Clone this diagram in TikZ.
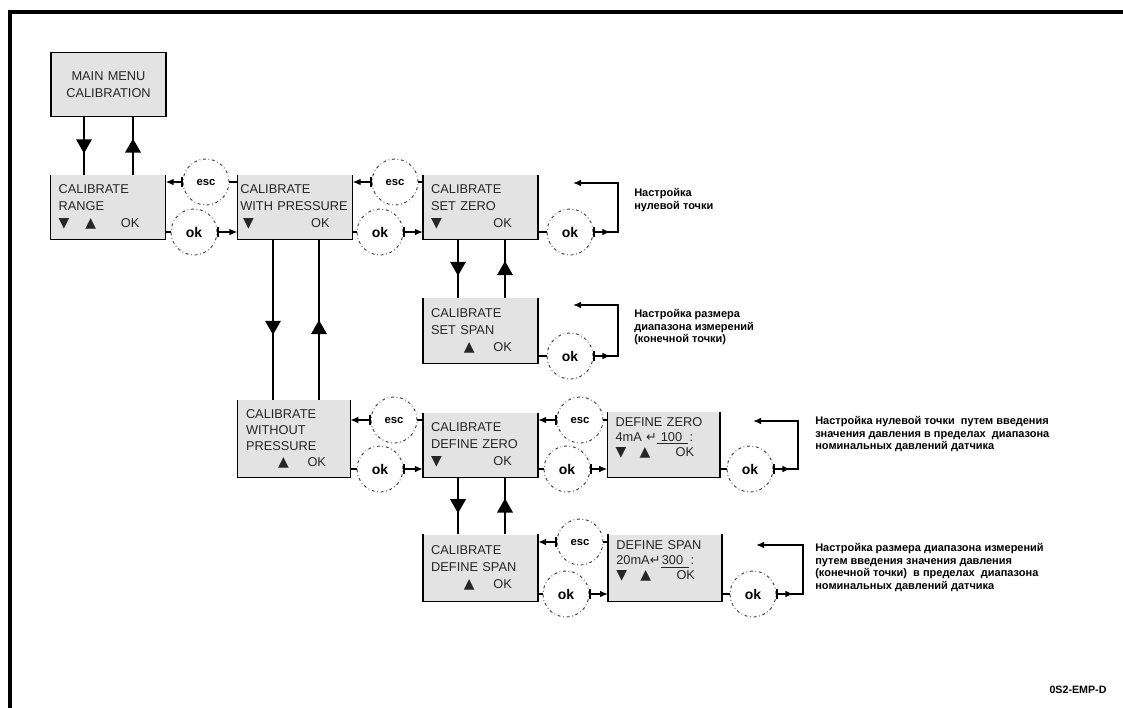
\documentclass[tikz,border=0pt]{standalone}
\usepackage{fontspec}
\setmainfont{Liberation Sans}
\newfontfamily\symfont{DejaVu Sans}
\usetikzlibrary{arrows.meta,decorations.markings}

\newcommand\dn{{\symfont\fontsize{10.5pt}{10pt}\selectfont\char"25BC}}
\newcommand\up{{\symfont\fontsize{10.5pt}{10pt}\selectfont\char"25B2}}
\newcommand\keyline[1]{\leavevmode\hbox to\linewidth{#1}}

\begin{document}
\begin{tikzpicture}[x=0.75pt, y=-0.75pt, >={Latex[length=6pt,width=5pt]},
  screen/.style={fill=black!11, align=left, text width=74pt, inner xsep=6pt,
    inner ysep=0pt, minimum height=48pt, text=black!85,
    font=\fontsize{9.6pt}{12.75pt}\selectfont},
  key/.style={circle, draw=black!75, line width=0.7pt, inner sep=0pt,
    dash pattern=on 2.2pt off 2pt on 0.6pt off 2pt, minimum size=34.5pt},
  escbtn/.style={key, font=\bfseries\fontsize{8.5pt}{8pt}\selectfont},
  okbtn/.style={key, font=\bfseries\fontsize{10.5pt}{10pt}\selectfont},
  flow/.style={line width=1.1pt, postaction={decorate},
    decoration={markings, mark=at position #1 with
      {\fill (5.5pt,0pt) -- (-5pt,6pt) -- (-5pt,-6pt) -- cycle;}}},
  flow/.default=0.5,
  note/.style={align=left, anchor=north west, inner sep=0pt,
    font=\bfseries\fontsize{8.25pt}{9.5pt}\selectfont}]
  \useasboundingbox (0,0) rectangle (1123,707);
  % frame
  \draw[line width=2.6pt] (10,12) rectangle (1200,780);

  % screens
  \node[screen, draw, align=center, line width=1.1pt] (main) at (108.5,84.5) {MAIN MENU\\CALIBRATION};
  \node[screen] (range) at (108,207)
    {CALIBRATE\\RANGE\\\keyline{\dn\hspace{12pt}\up\hfill OK\hspace{13.5pt}}};
  \node[screen, text width=82pt, inner xsep=2pt] (withp) at (295,207)
    {CALIBRATE\\\mbox{WITH PRESSURE}\\\keyline{\hspace{2pt}\dn\hfill OK\hspace{15pt}}};
  \node[screen] (setzero) at (480.5,207)
    {CALIBRATE\\SET ZERO\\\keyline{\dn\hfill OK\hspace{13.5pt}}};
  \node[screen, minimum height=49pt] (setspan) at (480.5,330.5)
    {CALIBRATE\\SET SPAN\\\keyline{\hfill\up\hspace{14pt}OK\hspace{13.5pt}}};
  \node[screen, text width=72pt, minimum height=58pt,
    font=\fontsize{9.6pt}{12pt}\selectfont] (without) at (294,438.5)
    {CALIBRATE\\WITHOUT\\PRESSURE\\\keyline{\hfill\up\hspace{14pt}OK\hspace{12pt}}};
  \node[screen] (defzero) at (480.5,445)
    {CALIBRATE\\DEFINE ZERO\\\keyline{\dn\hfill OK\hspace{13.5pt}}};
  \node[screen, text width=72pt, minimum height=49pt,
    font=\fontsize{9.6pt}{11.25pt}\selectfont] (dzero) at (663.5,444.5)
    {DEFINE ZERO\\4mA {\symfont\char"21B5}\underline{\hspace{3pt}100\hspace{4pt}}\,:\\
     \keyline{\dn\hspace{10pt}\up\hfill OK\hspace{13pt}}\\\mbox{}};
  \node[screen, minimum height=50pt] (defspan) at (480.5,568)
    {CALIBRATE\\DEFINE SPAN\\\keyline{\hfill\up\hspace{14pt}OK\hspace{13.5pt}}};
  \node[screen, text width=73pt, minimum height=50pt,
    font=\fontsize{9.6pt}{11.25pt}\selectfont] (dspan) at (665,568)
    {DEFINE SPAN\\20mA{\symfont\char"21B5}\underline{\hspace{1pt}300\hspace{4pt}}\,:\\
     \keyline{\dn\hspace{10pt}\up\hfill OK\hspace{14pt}}\\\mbox{}};
  % open tops
  \foreach \b in {range,withp,setzero,setspan,without,defzero,dzero,defspan,dspan}
    \draw[line width=1.1pt] (\b.north west) -- (\b.south west) -- (\b.south east) -- (\b.north east);

  % up and down
  \draw[flow] (main.south -| 84,0) -- (range.north -| 84,0);
  \draw[flow] (range.north -| 133,0) -- (main.south -| 133,0);
  \draw[flow=0.55] (withp.south -| 273,0) -- (without.north -| 273,0);
  \draw[flow=0.45] (without.north -| 319,0) -- (withp.south -| 319,0);
  \draw[flow] (setzero.south -| 458,0) -- (setspan.north -| 458,0);
  \draw[flow] (setspan.north -| 505,0) -- (setzero.south -| 505,0);
  \draw[flow] (defzero.south -| 458,0) -- (defspan.north -| 458,0);
  \draw[flow] (defspan.north -| 505,0) -- (defzero.south -| 505,0);

  % keys
  \node[escbtn] (esc1) at (206,182) {esc};
  \node[okbtn] (ok1) at (194,232) {ok};
  \node[escbtn] (esc2) at (395,182) {esc};
  \node[okbtn] (ok2) at (380,232) {ok};
  \node[okbtn] (ok3) at (570,232) {ok};
  \node[okbtn] (ok4) at (570,356) {ok};
  \node[escbtn] (esc5) at (394,420) {esc};
  \node[okbtn] (ok5) at (380,469) {ok};
  \node[escbtn] (esc6) at (580,420) {esc};
  \node[okbtn] (ok6) at (567,469) {ok};
  \node[okbtn] (ok7) at (750,469) {ok};
  \node[escbtn] (esc8) at (580,542) {esc};
  \node[okbtn] (ok8) at (566,594) {ok};
  \node[okbtn] (ok9) at (753,594) {ok};

  % esc goes back, ok goes on
  \draw[|->, line width=1.1pt] (esc1) -- (range.east |- esc1);
  \draw[line width=1.1pt] (withp.west |- esc1) -- (esc1);
  \draw[line width=1.1pt] (range.east |- ok1) -- (ok1);
  \draw[|->, line width=1.1pt] (ok1) -- (withp.west |- ok1);
  \draw[|->, line width=1.1pt] (esc2) -- (withp.east |- esc2);
  \draw[line width=1.1pt] (setzero.west |- esc2) -- (esc2);
  \draw[line width=1.1pt] (withp.east |- ok2) -- (ok2);
  \draw[|->, line width=1.1pt] (ok2) -- (setzero.west |- ok2);
  \draw[|->, line width=1.1pt] (esc5) -- (without.east |- esc5);
  \draw[line width=1.1pt] (defzero.west |- esc5) -- (esc5);
  \draw[line width=1.1pt] (without.east |- ok5) -- (ok5);
  \draw[|->, line width=1.1pt] (ok5) -- (defzero.west |- ok5);
  \draw[|->, line width=1.1pt] (esc6) -- (defzero.east |- esc6);
  \draw[line width=1.1pt] (dzero.west |- esc6) -- (esc6);
  \draw[line width=1.1pt] (defzero.east |- ok6) -- (ok6);
  \draw[|->, line width=1.1pt] (ok6) -- (dzero.west |- ok6);
  \draw[|->, line width=1.1pt] (esc8) -- (defspan.east |- esc8);
  \draw[line width=1.1pt] (dspan.west |- esc8) -- (esc8);
  \draw[line width=1.1pt] (defspan.east |- ok8) -- (ok8);
  \draw[|->, line width=1.1pt] (ok8) -- (dspan.west |- ok8);

  % ok loops back to the same screen
  \coordinate (turn3) at (618,183);  \coordinate (back3) at (573,183);
  \coordinate (turn4) at (618,305);  \coordinate (back4) at (573,305);
  \coordinate (turn7) at (798,421);  \coordinate (back7) at (753,421);
  \coordinate (turn9) at (803,545);  \coordinate (back9) at (756,545);
  \draw[line width=1.1pt] (setzero.east |- ok3) -- (ok3);
  \draw[line width=1.1pt] (setspan.east |- ok4) -- (ok4);
  \draw[line width=1.1pt] (dzero.east |- ok7) -- (ok7);
  \draw[line width=1.1pt] (dspan.east |- ok9) -- (ok9);
  \foreach \k in {3,4,7,9} {
    \draw[|->, line width=1.1pt] (ok\k.east) -- ++(17,0);
    \draw[->, line width=1.1pt] (ok\k.east) -| (turn\k) -- (back\k);
  }

  % notes
  \node[note] (note3) at (634,188) {Настройка\\нулевой точки};
  \node[note] (note4) at (634,309) {Настройка размера\\диапазона измерений\\(конечной точки)};
  \node[note] (note7) at (815,416) {Настройка нулевой точки\ \ путем введения\\значения давления в пределах\ \ диапазона\\номинальных давлений датчика};
  \node[note] (note9) at (815,543) {Настройка размера диапазона измерений\\путем введения значения давления\\(конечной точки)\ \ в пределах\ \ диапазона\\номинальных давлений датчика};
  \node[font=\bfseries\fontsize{8pt}{9pt}\selectfont] (code) at (1078,690) {0S2-EMP-D};
\end{tikzpicture}
\end{document}
